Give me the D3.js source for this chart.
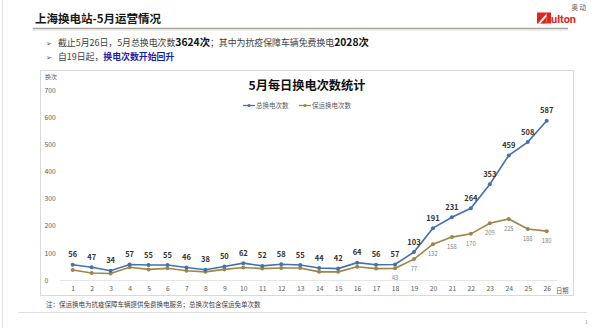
<!DOCTYPE html>
<html><head><meta charset="utf-8">
<script src="https://cdn.jsdelivr.net/npm/d3@7/dist/d3.min.js"></script>
<style>
html,body{margin:0;padding:0;background:#fff;}
svg{display:block;font-family:"Noto Sans CJK SC","Noto Sans",sans-serif;}
</style></head>
<body>
<svg id="c" width="600" height="328"></svg>
<script>
const days = ["1","2","3","4","5","6","7","8","9","10","11","12","13","14","15","16","17","18","19","20","21","22","23","24","25","26"];
const totalSwaps = [56,47,34,57,55,55,46,38,50,62,52,58,55,44,42,64,56,57,103,191,231,264,353,459,508,587];
const freeSwaps = [37,26,24,47,39,43,34,30,39,46,42,44,44,30,30,49,42,43,77,132,158,170,209,225,188,180];
const freeLabelFrom = 18;
const yTicks = [0,100,200,300,400,500,600,700];
const seriesNames = ["总换电次数","保运换电次数"];

const svg = d3.select("#c");
const blue = "#4272ad", brown = "#a08448";

// slide decorations
svg.append("line").attr("x1",2.5).attr("x2",2.5).attr("y1",0).attr("y2",328).attr("stroke","#e3e3e3");
svg.append("text").attr("x",35).attr("y",22.5).attr("font-size",11.5).attr("font-weight","bold").attr("fill","#1a1a1a").text("上海换电站-5月运营情况");
svg.append("line").attr("x1",33).attr("x2",568).attr("y1",28.5).attr("y2",28.5).attr("stroke","#a8a29c").attr("stroke-width",1.6);
svg.append("line").attr("x1",33).attr("x2",568).attr("y1",30).attr("y2",30).attr("stroke","#e4e2e0").attr("stroke-width",1);

// logo
const lg = svg.append("g");
lg.append("rect").attr("x",537).attr("y",12.5).attr("width",14).attr("height",11).attr("fill","#e0261b");
lg.append("polygon").attr("points","538,23.5 546.5,13.5 546.5,23.5").attr("fill","#fff");
lg.append("polygon").attr("points","540.5,23.5 546.5,16.5 546.5,23.5").attr("fill","#e0261b");
lg.append("text").attr("x",551).attr("y",23.3).attr("font-size",11).attr("font-weight","bold").attr("fill","#e0261b").attr("font-family","Roboto,Arial,sans-serif").text("ulton");
lg.append("text").attr("x",586).attr("y",10).attr("text-anchor","end").attr("font-size",6.5).attr("fill","#555").text("奥 动");

// bullets
svg.append("text").attr("x",46).attr("y",45.5).attr("font-size",7).attr("fill","#555").text("➢");
svg.append("text").attr("x",46).attr("y",59.5).attr("font-size",7).attr("fill","#555").text("➢");
const t1 = svg.append("text").attr("x",58).attr("y",46).attr("font-size",8.9).attr("fill","#404040");
t1.append("tspan").text("截止5月26日，5月总换电次数");
t1.append("tspan").attr("font-weight","bold").attr("font-size",10.3).attr("fill","#111").text("3624次");
t1.append("tspan").text("；其中为抗疫保障车辆免费换电");
t1.append("tspan").attr("font-weight","bold").attr("font-size",10.3).attr("fill","#111").text("2028次");
const t2 = svg.append("text").attr("x",58).attr("y",60).attr("font-size",8.9).attr("fill","#404040");
t2.append("tspan").text("自19日起，");
t2.append("tspan").attr("font-weight","bold").attr("fill","#1d1dab").text("换电次数开始回升");

// chart frame
svg.append("rect").attr("x",40.5).attr("y",70.5).attr("width",533).attr("height",225).attr("fill","none").attr("stroke","#d9d9d9");

const x = d3.scalePoint().domain(days).range([72.7,546.7]);
const y = d3.scaleLinear().domain([0,700]).range([280,90]);

// baseline
svg.append("line").attr("x1",60).attr("x2",557).attr("y1",y(0)+0.5).attr("y2",y(0)+0.5).attr("stroke","#e6e6e6");

// y axis labels
const yAxis = d3.axisLeft(y).tickValues(yTicks).tickSize(0).tickPadding(0);
const ya = svg.append("g").attr("transform","translate(44.5,0)").call(yAxis);
ya.select(".domain").remove();
ya.selectAll("text").attr("text-anchor","start").attr("x",0).attr("font-size",6.8).attr("fill","#595959").attr("font-family","Noto Sans CJK SC");
svg.append("text").attr("x",45).attr("y",79).attr("font-size",6).attr("fill","#595959").text("换次");

// x axis labels
const xAxis = d3.axisBottom(x).tickSize(0).tickPadding(0);
const xa = svg.append("g").attr("transform","translate(0,286)").call(xAxis);
xa.select(".domain").remove();
xa.selectAll("text").attr("dy","0.71em").attr("font-size",6.8).attr("fill","#595959").attr("font-family","Noto Sans CJK SC");
svg.append("text").attr("x",556).attr("y",292.5).attr("font-size",6.3).attr("fill","#595959").text("日期");

// title & legend
svg.append("text").attr("x",307).attr("y",90).attr("text-anchor","middle").attr("font-size",12.2).attr("font-weight","bold").attr("fill","#111").text("5月每日换电次数统计");
const legendX = [243,299];
[blue,brown].forEach((c,i)=>{
  const g = svg.append("g");
  g.append("line").attr("x1",legendX[i]).attr("x2",legendX[i]+12).attr("y1",105.5).attr("y2",105.5).attr("stroke",c).attr("stroke-width",1.3);
  g.append("circle").attr("cx",legendX[i]+6).attr("cy",105.5).attr("r",1.6).attr("fill",c);
  g.append("text").attr("x",legendX[i]+13).attr("y",107.8).attr("font-size",6.5).attr("fill","#595959").text(seriesNames[i]);
});

const line = d3.line().x((d,i)=>x(days[i])).y(d=>y(d));
function drawSeries(vals,c){
  svg.append("path").datum(vals).attr("d",line).attr("fill","none").attr("stroke",c).attr("stroke-width",1.6);
  svg.selectAll(null).data(vals).enter().append("circle")
    .attr("cx",(d,i)=>x(days[i])).attr("cy",d=>y(d)).attr("r",2).attr("fill",c);
}
drawSeries(freeSwaps,brown);
drawSeries(totalSwaps,blue);

svg.selectAll(null).data(totalSwaps).enter().append("text")
  .attr("x",(d,i)=>x(days[i])).attr("y",d=>y(d)-7.5).attr("text-anchor","middle")
  .attr("font-size",7.5).attr("font-weight","bold").attr("fill","#333").text(d=>d);
svg.selectAll(null).data(freeSwaps.map((v,i)=>({v,i})).filter(o=>+days[o.i]>=freeLabelFrom)).enter().append("text")
  .attr("x",o=>x(days[o.i])).attr("y",o=>y(o.v)+12).attr("text-anchor","middle")
  .attr("font-size",5.8).attr("fill","#7f7f7f").text(o=>o.v);

// note & footer
svg.append("text").attr("x",46).attr("y",307).attr("font-size",6.5).attr("fill","#404040").text("注：保运换电为抗疫保障车辆提供免费换电服务；总换次包含保运免单次数");
svg.append("line").attr("x1",18).attr("x2",587).attr("y1",312.5).attr("y2",312.5).attr("stroke","#e0e0e0");
svg.append("text").attr("x",585).attr("y",324).attr("font-size",5).attr("fill","#888").text("1");
</script>
</body></html>
